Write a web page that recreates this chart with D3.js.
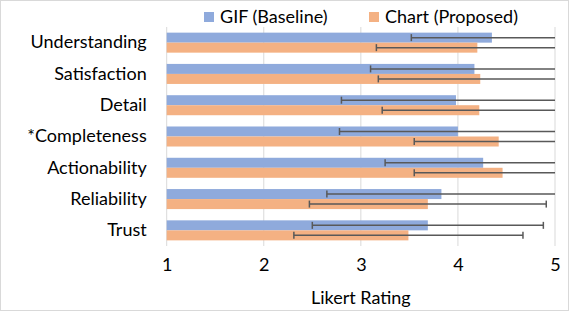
<!DOCTYPE html>
<meta charset="utf-8">
<style>
body { margin: 0; background: #fff; }
text { font-family: Lato, "Open Sans", sans-serif; fill: #000; }
.grid line { stroke: #d9d9d9; stroke-width: 1; }
.err line { stroke: #595959; stroke-width: 1.5; }
</style>
<svg width="570" height="312"></svg>
<script src="https://cdn.jsdelivr.net/npm/d3@7/dist/d3.min.js"></script>
<script>

var categories = ["Understanding", "Satisfaction", "Detail", "*Completeness", "Actionability", "Reliability", "Trust"];
var seriesNames = ["GIF (Baseline)", "Chart (Proposed)"];
var gifMean = [4.35, 4.17, 3.98, 4.00, 4.26, 3.83, 3.69];
var gifSd = [0.83, 1.07, 1.18, 1.22, 1.01, 1.18, 1.19];
var chartMean = [4.20, 4.23, 4.22, 4.42, 4.46, 3.69, 3.49];
var chartSd = [1.04, 1.05, 1.00, 0.87, 0.91, 1.22, 1.18];
var ticks = [1, 2, 3, 4, 5];

var colors = ["#8faadc", "#f4b183"];
var fontSize = "18px";

var svg = d3.select("svg"),
    width = +svg.attr("width"),
    height = +svg.attr("height");

// border like the office chart frame
svg.append("rect")
    .attr("x", 0.5).attr("y", 0.5)
    .attr("width", width - 2).attr("height", height - 2)
    .attr("fill", "#fff").attr("stroke", "#d9d9d9");

var x = d3.scaleLinear().domain([1, 5]).range([166.7, 555]);

var y = d3.scaleBand()
    .domain(categories)
    .range([27, 246])
    .paddingInner(0.36)
    .paddingOuter(0.18);

var sub = d3.scaleBand().domain([0, 1]).range([0, y.bandwidth()]);

// gridlines
svg.append("g").attr("class", "grid")
  .selectAll("line").data(ticks).enter().append("line")
    .attr("x1", function(d) { return x(d); })
    .attr("x2", function(d) { return x(d); })
    .attr("y1", 27).attr("y2", 246);

var rows = categories.map(function(c, i) {
  return [
    {cat: c, s: 0, mean: gifMean[i], sd: gifSd[i]},
    {cat: c, s: 1, mean: chartMean[i], sd: chartSd[i]}
  ];
});
var bars = d3.merge(rows);

svg.append("g").selectAll("rect").data(bars).enter().append("rect")
    .attr("x", x(1))
    .attr("y", function(d) { return y(d.cat) + sub(d.s); })
    .attr("width", function(d) { return x(d.mean) - x(1); })
    .attr("height", sub.bandwidth())
    .attr("fill", function(d) { return colors[d.s]; });

// error bars, clipped at 5 like the original
var err = svg.append("g").attr("class", "err").selectAll("g").data(bars).enter().append("g")
    .attr("transform", function(d) { return "translate(0," + (y(d.cat) + sub(d.s) + sub.bandwidth() / 2) + ")"; });

err.append("line")
    .attr("x1", function(d) { return x(d.mean - d.sd); })
    .attr("x2", function(d) { return x(Math.min(5, d.mean + d.sd)); })
    .attr("y1", 0).attr("y2", 0);
err.append("line")
    .attr("x1", function(d) { return x(d.mean - d.sd); })
    .attr("x2", function(d) { return x(d.mean - d.sd); })
    .attr("y1", -3.5).attr("y2", 3.5);
err.filter(function(d) { return d.mean + d.sd < 5; }).append("line")
    .attr("x1", function(d) { return x(d.mean + d.sd); })
    .attr("x2", function(d) { return x(d.mean + d.sd); })
    .attr("y1", -3.5).attr("y2", 3.5);

// category labels
var yAxis = svg.append("g")
    .attr("transform", "translate(" + x(1) + ",0)")
    .call(d3.axisLeft(y).tickSize(0).tickPadding(20));
yAxis.select(".domain").remove();
yAxis.selectAll("text").style("font-family", "Lato, sans-serif").style("font-size", fontSize).attr("fill", "#000");

// x axis
var xAxis = svg.append("g")
    .attr("transform", "translate(0,246)")
    .call(d3.axisBottom(x).tickValues(ticks).tickFormat(d3.format("d")).tickSize(0).tickPadding(12));
xAxis.select(".domain").remove();
xAxis.selectAll("text").style("font-family", "Lato, sans-serif").style("font-size", fontSize).attr("fill", "#000");

svg.append("text")
    .attr("x", x(3)).attr("y", 304)
    .attr("text-anchor", "middle")
    .style("font-size", fontSize)
    .text("Likert Rating");

// legend
var legendX = [204, 369];
var legend = svg.append("g").selectAll("g").data(seriesNames).enter().append("g")
    .attr("transform", function(d, i) { return "translate(" + legendX[i] + ",12)"; });
legend.append("rect")
    .attr("width", 10).attr("height", 10)
    .attr("fill", function(d, i) { return colors[i]; });
legend.append("text")
    .attr("x", 16).attr("y", 5).attr("dy", "0.35em")
    .style("font-size", fontSize)
    .text(function(d) { return d; });

</script>
